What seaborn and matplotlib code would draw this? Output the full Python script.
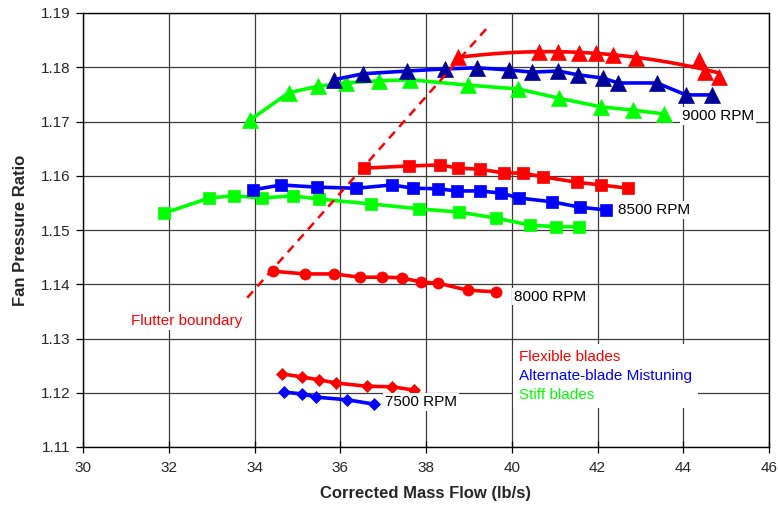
import numpy as np
import pandas as pd
import matplotlib
matplotlib.use("Agg")
import matplotlib.pyplot as plt
from matplotlib.lines import Line2D
import seaborn as sns

# ---------------- data ----------------
# 9000 RPM
x9_flex = [38.75, 40.64, 41.08, 41.57, 41.97, 42.36, 42.90, 44.37, 44.51, 44.83]
y9_flex = [1.1819, 1.1828, 1.1828, 1.1826, 1.1826, 1.1823, 1.1817, 1.1813, 1.1791, 1.1782]
x9_alt = [35.85, 36.53, 37.56, 38.44, 39.19, 39.94, 40.47, 41.08, 41.55, 42.13, 42.48, 43.39, 44.06, 44.67]
y9_alt = [1.1777, 1.1788, 1.1793, 1.1797, 1.1799, 1.1795, 1.1791, 1.1793, 1.1786, 1.1780, 1.1771, 1.1771, 1.1749, 1.1749]
x9_stiff = [33.90, 34.80, 35.48, 36.13, 36.90, 37.63, 38.98, 40.15, 41.10, 42.08, 42.83, 43.55]
y9_stiff = [1.1703, 1.1753, 1.1765, 1.1771, 1.1775, 1.1777, 1.1767, 1.1760, 1.1743, 1.1727, 1.1721, 1.1714]

# 8500 RPM
x85_flex = [36.55, 37.60, 38.33, 38.75, 39.26, 39.82, 40.26, 40.73, 41.52, 42.08, 42.71]
y85_flex = [1.1614, 1.1618, 1.1620, 1.1614, 1.1612, 1.1605, 1.1605, 1.1598, 1.1588, 1.1583, 1.1577]
x85_alt = [33.96, 34.62, 35.46, 36.37, 37.21, 37.70, 38.28, 38.72, 39.26, 39.75, 40.17, 40.94, 41.59, 42.20]
y85_alt = [1.1574, 1.1583, 1.1579, 1.1577, 1.1583, 1.1577, 1.1576, 1.1572, 1.1572, 1.1568, 1.1559, 1.1552, 1.1542, 1.1537]
x85_stiff = [31.89, 32.94, 33.52, 34.17, 34.90, 35.50, 36.72, 37.84, 38.77, 39.63, 40.43, 41.03, 41.57]
y85_stiff = [1.1531, 1.1559, 1.1563, 1.1559, 1.1563, 1.1557, 1.1548, 1.1539, 1.1533, 1.1522, 1.1509, 1.1506, 1.1506]

# 8000 RPM
x80_flex = [34.43, 35.18, 35.85, 36.46, 36.97, 37.44, 37.88, 38.28, 38.98, 39.63]
y80_flex = [1.1424, 1.1419, 1.1419, 1.1413, 1.1413, 1.1412, 1.1404, 1.1402, 1.1389, 1.1386]

# 7500 RPM
x75_flex = [34.64, 35.11, 35.50, 35.90, 36.62, 37.21, 37.72]
y75_flex = [1.1235, 1.1229, 1.1224, 1.1218, 1.1212, 1.1211, 1.1205]
x75_alt = [34.69, 35.11, 35.43, 36.16, 36.79]
y75_alt = [1.1201, 1.1198, 1.1192, 1.1187, 1.1179]

# flutter boundary
flutter_x = [33.83, 39.42]
flutter_y = [1.1375, 1.1872]

speed_labels = ["9000 RPM", "8500 RPM", "8000 RPM", "7500 RPM"]
speed_label_x = [43.97, 42.48, 40.05, 37.04]
speed_label_y = [1.1710, 1.1537, 1.1377, 1.1183]

legend_labels = ["Flexible blades", "Alternate-blade Mistuning", "Stiff blades"]
x_ticks = [30, 32, 34, 36, 38, 40, 42, 44, 46]
y_ticks = [1.11, 1.12, 1.13, 1.14, 1.15, 1.16, 1.17, 1.18, 1.19]

RED, BLUE, GREEN = "#FF0000", "#0000FF", "#00FF00"
NAVY = "#00009A"

# ---------------- figure ----------------
sns.set_theme(style="white")
plt.rcParams["font.family"] = ["Liberation Sans", "DejaVu Sans"]

fig = plt.figure(figsize=(7.78, 5.08), dpi=100)
ax = fig.add_axes([83 / 778, 1 - 447 / 508, 686 / 778, 434 / 508])

LW = 2.6

def series(x, y, color, marker, ms, mec=None, z=3):
    sns.lineplot(x=x, y=y, ax=ax, color=color, linewidth=LW, marker=marker,
                 markersize=ms, markeredgecolor=mec or color, markerfacecolor=mec or color,
                 markeredgewidth=0.5, sort=False, estimator=None, zorder=z)

# 9000 RPM: flexible shown with fitted trend curve
sns.regplot(x=np.array(x9_flex), y=np.array(y9_flex), ax=ax, order=2, ci=None,
            color=RED, marker="^",
            scatter_kws=dict(s=130, color=RED, edgecolors=RED, linewidths=0.5, zorder=4, alpha=1),
            line_kws=dict(linewidth=LW, color=RED, zorder=3))
series(x9_stiff, y9_stiff, GREEN, "^", 11)
series(x9_alt, y9_alt, BLUE, "^", 11, mec=NAVY)

series(x85_flex, y85_flex, RED, "s", 9)
series(x85_stiff, y85_stiff, GREEN, "s", 9)
series(x85_alt, y85_alt, BLUE, "s", 9)

series(x80_flex, y80_flex, RED, "o", 8)

series(x75_flex, y75_flex, RED, "D", 6.5)
series(x75_alt, y75_alt, BLUE, "D", 6.5)

sns.lineplot(x=flutter_x, y=flutter_y, ax=ax, color=RED, linewidth=1.8,
             linestyle=(0, (3.5, 2.6)), zorder=5)

# speed labels with white boxes
for lab, lx, ly in zip(speed_labels, speed_label_x, speed_label_y):
    ax.text(lx, ly, lab, fontsize=11, color="black", va="center", ha="left", zorder=6,
            bbox=dict(facecolor="white", edgecolor="none", pad=1.2))

ax.text(31.12, 1.1332, "Flutter boundary", fontsize=11, color=RED, va="center", ha="left",
        zorder=6, bbox=dict(facecolor="white", edgecolor="none", pad=1.5))

# legend (text only)
handles = [Line2D([], [], linestyle="none") for _ in legend_labels]
leg = ax.legend(handles, legend_labels, loc="upper left", bbox_to_anchor=(0.627, 0.238),
                borderaxespad=0, frameon=True, fancybox=False, framealpha=1,
                facecolor="white", edgecolor="none", handlelength=0, handletextpad=0,
                labelcolor=[RED, BLUE, GREEN], fontsize=11, labelspacing=0.32,
                borderpad=0.4)
leg.set_zorder(7)

# axes styling
ax.set_xlim(30, 46)
ax.set_ylim(1.11, 1.19)
ax.set_xticks(x_ticks)
ax.set_yticks(y_ticks)
ax.set_xticklabels([str(v) for v in x_ticks])
ax.set_yticklabels([f"{v:.2f}" for v in y_ticks])
ax.grid(True, color="#3a3a3a", linewidth=0.9)
ax.set_axisbelow(True)
for sp in ax.spines.values():
    sp.set_color("black")
    sp.set_linewidth(1.0)
ax.tick_params(axis="x", direction="inout", length=8, width=0.9, color="black",
               labelsize=11, pad=6, bottom=True)
ax.tick_params(axis="y", direction="out", length=5, width=0.9, color="black",
               labelsize=11, pad=4, left=True)
ax.set_xlabel("Corrected Mass Flow (lb/s)", fontsize=12, fontweight="bold", labelpad=8)
ax.set_ylabel("Fan Pressure Ratio", fontsize=12, fontweight="bold", labelpad=9)

fig.savefig("out.png", dpi=100)
